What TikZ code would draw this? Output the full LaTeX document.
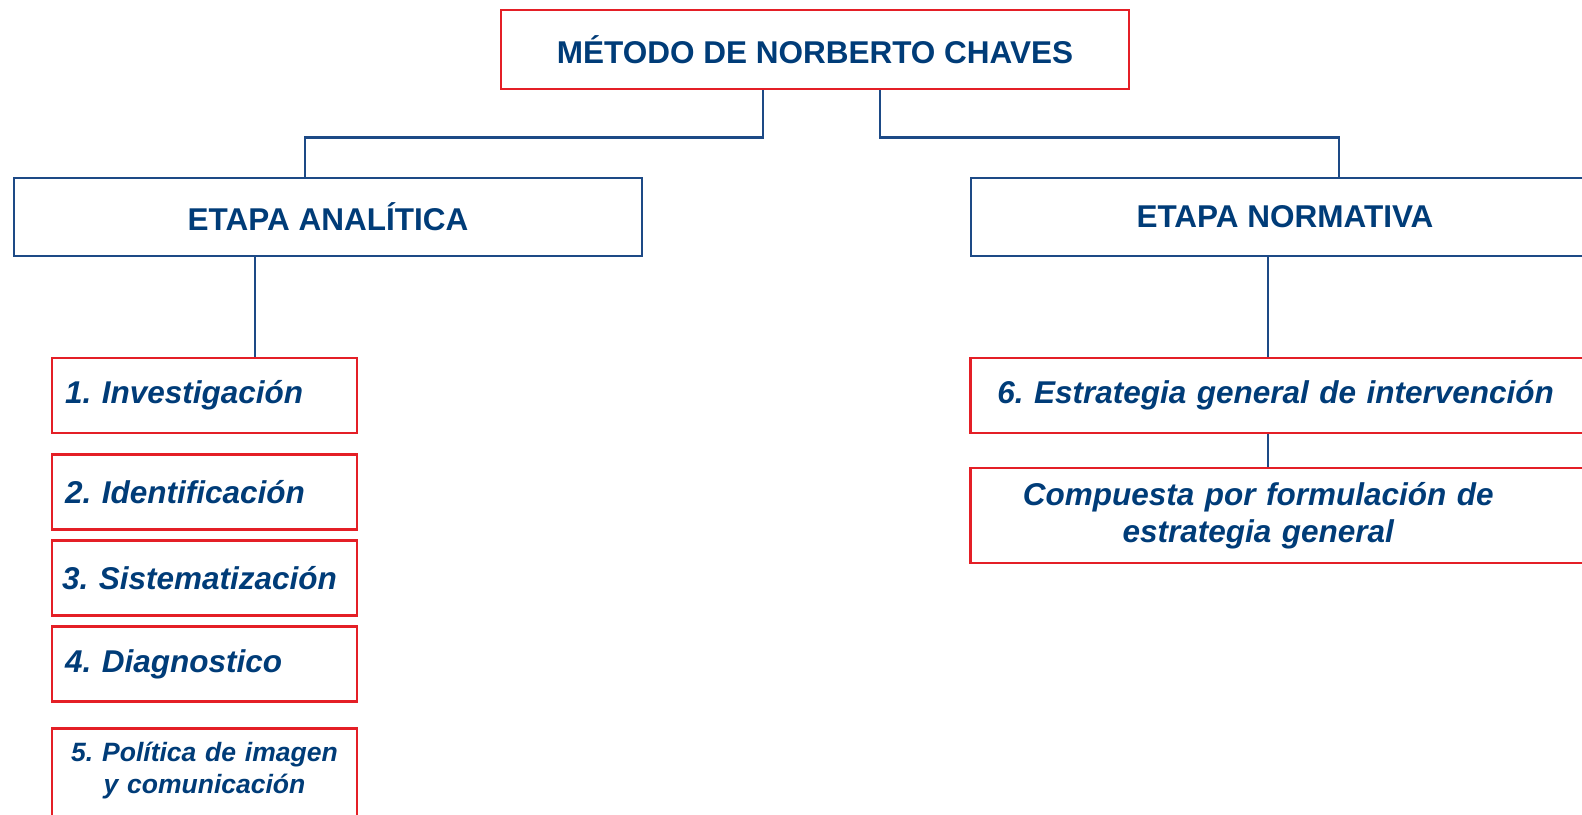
\documentclass[tikz,border=0pt]{standalone}
\usepackage{fontspec}
\setmainfont{Liberation Sans}
\usetikzlibrary{positioning}
\frenchspacing
\definecolor{ChavesText}{HTML}{003C78}
\definecolor{ChavesRed}{HTML}{E41F26}
\definecolor{ChavesLine}{HTML}{1D4A86}

\tikzset{
    boxfont/.style={font=\fontsize{31.5}{37}\selectfont\bfseries, text=ChavesText},
    headbox/.style={boxfont, draw=ChavesRed, line width=2.6pt, inner sep=0pt,
        minimum width=628pt, minimum height=79pt},
    stagebox/.style={boxfont, draw=ChavesLine, line width=2.4pt, inner sep=0pt,
        minimum width=628pt, minimum height=78pt},
    itembox/.style={boxfont, font=\fontsize{31.5}{37}\selectfont\bfseries\itshape,
        draw=ChavesRed, line width=2.6pt, inner xsep=13pt, inner ysep=0pt,
        text width=279pt, align=left, minimum height=75pt},
    widebox/.style={itembox, anchor=west, inner xsep=0pt, text width=760pt},
    link/.style={ChavesLine, line width=2.4pt}
}

\begin{document}
\begin{tikzpicture}[x=1pt, y=-1pt]
    % Page frame
    \useasboundingbox (0,0) rectangle (1582,814);
    \clip (0,0) rectangle (1582,814);
    \fill[white] (0,0) rectangle (1582,814);

    % Spines
    \coordinate (spineL) at (255,0);
    \coordinate (spineR) at (1268,0);

    % Title and stages
    \node[headbox] (head) at (815,49.5) {MÉTODO DE NORBERTO CHAVES};
    \node[stagebox] (analitica) at (328,217) {ETAPA ANALÍTICA};
    \node[stagebox] (normativa) at (1285,217) {ETAPA NORMATIVA};

    % Analytic steps
    \node[itembox] (inv) at (204.5,395.5) {1. Investigación};
    \node[itembox] (ident) at (204.5,492) {2. Identificación};
    \node[itembox, inner xsep=10pt, text width=285pt] (sist) at (204.5,578) {3. Sistematización};
    \node[itembox] (diag) at (204.5,664) {4. Diagnostico};
    \node[itembox, anchor=north, align=center, inner ysep=14pt, text depth=60pt,
        font=\fontsize{26.5}{32}\selectfont\bfseries\itshape]
        (politica) at (204.5,727) {5. Política de imagen\\y comunicación};

    % Normative steps
    \node[widebox] (estrategia) at (969,395.5)
        {\hspace*{27pt}6. Estrategia general de intervención};
    \node[widebox, minimum height=95pt] (compuesta) at (969,515.5)
        {\parbox{576pt}{\centering Compuesta por formulación de\\estrategia general}};

    % Connectors
    \draw[link] ([xshift=-52pt]head.south) -- ++(0,47) -| ([xshift=-23pt]analitica.north);
    \draw[link] ([xshift=65pt]head.south) -- ++(0,47) -| ([xshift=54pt]normativa.north);
    \draw[link] (spineL |- analitica.south) -- (spineL |- inv.north);
    \draw[link] (spineR |- normativa.south) -- (spineR |- estrategia.north);
    \draw[link] (spineR |- estrategia.south) -- (spineR |- compuesta.north);
\end{tikzpicture}
\end{document}
